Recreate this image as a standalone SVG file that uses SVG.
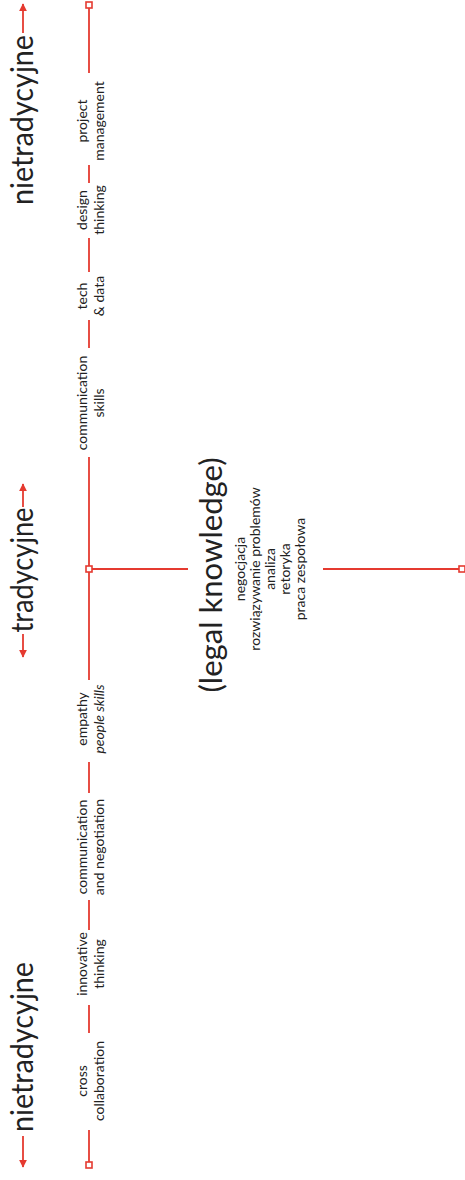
<svg xmlns="http://www.w3.org/2000/svg" width="465" height="1180" viewBox="0 0 465 1180">
<style>
.ln{stroke:#e53a30;stroke-width:1.8;fill:none}
.sq{stroke:#e53a30;stroke-width:1.6;fill:#fff}
.t{font-family:Lato,"Open Sans",sans-serif;fill:#222}
.title{font-size:31px}
.lab{font-size:14px}
.big{font-size:31px}
.it{font-style:italic}
</style>
<defs>
<marker id="ah" viewBox="0 0 10 10" refX="9" refY="5" markerWidth="8" markerHeight="8" markerUnits="userSpaceOnUse" orient="auto">
<path d="M0,0 L10,5 L0,10 z" fill="#e53a30"/>
</marker>
</defs>
<rect width="465" height="1180" fill="#fff"/>
<g id="connectors">
<line class="ln" x1="23" y1="33" x2="23" y2="4" marker-end="url(#ah)"/>
<line class="ln" x1="23" y1="507" x2="23" y2="484" marker-end="url(#ah)"/>
<line class="ln" x1="23" y1="634" x2="23" y2="657" marker-end="url(#ah)"/>
<line class="ln" x1="23" y1="1136" x2="23" y2="1167" marker-end="url(#ah)"/>
<line class="ln" x1="89" y1="5" x2="89" y2="73"/>
<line class="ln" x1="89" y1="165" x2="89" y2="183"/>
<line class="ln" x1="89" y1="238" x2="89" y2="272"/>
<line class="ln" x1="89" y1="320" x2="89" y2="348"/>
<line class="ln" x1="89" y1="457" x2="89" y2="680"/>
<line class="ln" x1="89" y1="762" x2="89" y2="793"/>
<line class="ln" x1="89" y1="900" x2="89" y2="930"/>
<line class="ln" x1="89" y1="1005" x2="89" y2="1033"/>
<line class="ln" x1="89" y1="1130" x2="89" y2="1165"/>
<line class="ln" x1="89" y1="569" x2="188" y2="569"/>
<line class="ln" x1="323" y1="569" x2="461" y2="569"/>
<rect class="sq" x="86" y="2" width="6" height="6"/>
<rect class="sq" x="86" y="566" width="6" height="6"/>
<rect class="sq" x="86" y="1162" width="6" height="6"/>
<rect class="sq" x="459" y="566" width="6" height="6"/>
</g>
<g id="title-top"><text class="t title" transform="translate(33,120) rotate(-90)" text-anchor="middle" textLength="170" lengthAdjust="spacingAndGlyphs">nietradycyjne</text></g>
<g id="title-mid"><text class="t title" transform="translate(33,570) rotate(-90)" text-anchor="middle" textLength="125" lengthAdjust="spacingAndGlyphs">tradycyjne</text></g>
<g id="title-bottom"><text class="t title" transform="translate(33,1047) rotate(-90)" text-anchor="middle" textLength="170" lengthAdjust="spacingAndGlyphs">nietradycyjne</text></g>
<g id="n-project"><text class="t lab" transform="translate(0,121) rotate(-90)" text-anchor="middle"><tspan x="0" y="87">project</tspan><tspan x="0" y="104">management</tspan></text></g>
<g id="n-design"><text class="t lab" transform="translate(0,210) rotate(-90)" text-anchor="middle"><tspan x="0" y="87">design</tspan><tspan x="0" y="104">thinking</tspan></text></g>
<g id="n-tech"><text class="t lab" transform="translate(0,296) rotate(-90)" text-anchor="middle"><tspan x="0" y="87">tech</tspan><tspan x="0" y="104">&amp; data</tspan></text></g>
<g id="n-commskills"><text class="t lab" transform="translate(0,403) rotate(-90)" text-anchor="middle"><tspan x="0" y="87">communication</tspan><tspan x="0" y="104">skills</tspan></text></g>
<g id="n-empathy"><text class="t lab" transform="translate(0,719) rotate(-90)" text-anchor="middle"><tspan x="0" y="87">empathy</tspan><tspan class="it" x="0" y="104">people skills</tspan></text></g>
<g id="n-commneg"><text class="t lab" transform="translate(0,847) rotate(-90)" text-anchor="middle"><tspan x="0" y="87">communication</tspan><tspan x="0" y="104">and negotiation</tspan></text></g>
<g id="n-innov"><text class="t lab" transform="translate(0,964) rotate(-90)" text-anchor="middle"><tspan x="0" y="87">innovative</tspan><tspan x="0" y="104">thinking</tspan></text></g>
<g id="n-cross"><text class="t lab" transform="translate(0,1081) rotate(-90)" text-anchor="middle"><tspan x="0" y="87">cross</tspan><tspan x="0" y="104">collaboration</tspan></text></g>
<g id="n-legal">
<text class="t big" transform="translate(222,575) rotate(-90)" text-anchor="middle" textLength="235" lengthAdjust="spacingAndGlyphs">(legal knowledge)</text>
<text class="t lab" transform="translate(0,569) rotate(-90)" text-anchor="middle"><tspan x="0" y="245">negocjacja</tspan><tspan x="0" y="260">rozwiązywanie problemów</tspan><tspan x="0" y="275">analiza</tspan><tspan x="0" y="290">retoryka</tspan><tspan x="0" y="305">praca zespołowa</tspan></text>
</g>
</svg>
